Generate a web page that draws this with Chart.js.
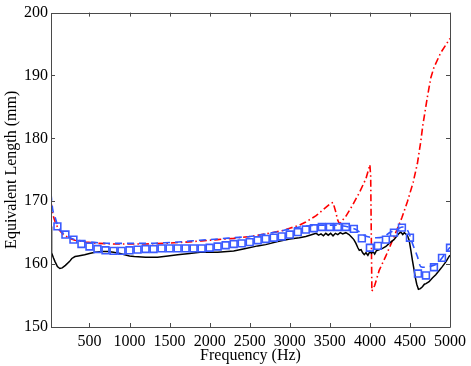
<!DOCTYPE html>
<html>
<head>
<meta charset="utf-8">
<script src="https://cdn.jsdelivr.net/npm/chart.js@4/dist/chart.umd.min.js"></script>
<style>
html,body{margin:0;padding:0;background:#fff;}
#wrap{width:471px;height:366px;position:relative;}
</style>
</head>
<body>
<div id="wrap"><canvas id="c" width="471" height="366"></canvas></div>
<script>
// ---- data ----
const xTickValues = [500, 1000, 1500, 2000, 2500, 3000, 3500, 4000, 4500, 5000];
const yTickValues = [150, 160, 170, 180, 190, 200];

const measuredFreq = [20, 24, 30, 50, 70, 100, 130, 160, 200, 250, 280, 320, 360, 440, 500, 570, 650, 730, 800, 880, 940, 1000, 1060, 1200, 1350, 1480, 1600, 1750, 1880, 2000, 2100, 2300, 2450, 2600, 2700, 2850, 3000, 3120, 3200, 3250, 3300, 3330, 3360, 3390, 3420, 3450, 3480, 3510, 3540, 3570, 3600, 3630, 3660, 3700, 3740, 3770, 3800, 3826, 3850, 3868, 3890, 3910, 3930, 3951, 3975, 4000, 4020, 4040, 4060, 4080, 4120, 4158, 4200, 4241, 4300, 4344, 4365, 4386, 4410, 4430, 4448, 4470, 4490, 4510, 4531, 4550, 4565, 4585, 4606, 4630, 4656, 4680, 4700, 4739, 4780, 4822, 4860, 4904, 4950, 4987, 5000];
const measuredLen = [166.0, 162.5, 161.8, 161.0, 160.4, 159.6, 159.3, 159.4, 159.8, 160.4, 160.9, 161.2, 161.3, 161.5, 161.7, 161.9, 162.0, 162.0, 161.9, 161.7, 161.5, 161.3, 161.2, 161.1, 161.1, 161.3, 161.5, 161.7, 161.9, 161.9, 161.9, 162.1, 162.5, 162.9, 163.1, 163.6, 164.0, 164.2, 164.4, 164.6, 164.8, 164.9, 164.6, 164.8, 164.5, 164.9, 164.6, 164.9, 164.5, 164.9, 164.7, 165.0, 164.8, 165.0, 164.7, 164.3, 163.9, 163.3, 162.6, 162.2, 162.3, 161.8, 161.5, 161.8, 161.4, 162.0, 161.7, 162.0, 161.6, 162.1, 162.3, 162.5, 162.8, 163.3, 163.9, 164.6, 164.9, 165.1, 164.7, 165.0, 164.8, 164.5, 163.8, 162.3, 160.6, 159.2, 158.0, 156.8, 156.0, 156.1, 156.4, 156.8, 156.9, 157.2, 157.8, 158.3, 158.9, 159.6, 160.4, 161.2, 161.4];

const modelFreq = [20, 40, 70, 111, 173, 250, 318, 450, 608, 800, 1000, 1200, 1438, 1700, 1877, 2100, 2300, 2500, 2700, 2900, 3121, 3250, 3370, 3500, 3650, 3785, 3840, 3889, 3940, 3992, 4080, 4158, 4261, 4350, 4407, 4469, 4500, 4531, 4593, 4635, 4700, 4739, 4842, 4925, 5000];
const modelLen = [171.2, 168.8, 167.5, 165.9, 164.9, 164.3, 163.9, 163.6, 163.4, 163.3, 163.3, 163.3, 163.4, 163.6, 163.8, 164.0, 164.2, 164.4, 164.8, 165.3, 165.9, 166.1, 166.2, 166.2, 166.1, 165.7, 165.4, 164.9, 164.5, 164.3, 164.2, 164.3, 165.1, 165.6, 165.9, 165.4, 164.5, 163.3, 161.2, 159.6, 159.5, 159.6, 160.1, 161.4, 162.7];

const simpleFreq = [20, 40, 70, 111, 173, 250, 318, 450, 608, 800, 1000, 1200, 1438, 1700, 1900, 2100, 2300, 2500, 2700, 2900, 3000, 3121, 3200, 3329, 3420, 3515, 3540, 3570, 3598, 3620, 3700, 3785, 3870, 3951, 4000, 4010, 4025, 4060, 4116, 4200, 4300, 4400, 4470, 4540, 4593, 4635, 4660, 4718, 4760, 4800, 4884, 4950, 5000];
const simpleLen = [169.9, 168.0, 166.8, 165.6, 164.7, 164.1, 163.8, 163.5, 163.3, 163.2, 163.2, 163.2, 163.3, 163.5, 163.7, 163.9, 164.1, 164.4, 164.8, 165.3, 165.7, 166.2, 166.7, 167.7, 168.7, 169.7, 169.8, 168.5, 167.0, 166.4, 167.6, 169.4, 171.4, 173.6, 175.8, 174.0, 155.7, 156.6, 159.0, 161.3, 164.3, 167.4, 170.0, 173.0, 176.0, 179.5, 182.0, 186.6, 189.6, 191.3, 193.6, 194.9, 195.9];

const squareFreq = [100, 200, 300, 400, 500, 600, 700, 800, 900, 1000, 1100, 1200, 1300, 1400, 1500, 1600, 1700, 1800, 1900, 2000, 2100, 2200, 2300, 2400, 2500, 2600, 2700, 2800, 2900, 3000, 3100, 3200, 3300, 3400, 3500, 3600, 3700, 3800, 3900, 4000, 4100, 4200, 4300, 4400, 4500, 4600, 4700, 4800, 4900, 5000];
const squareLen = [166.0, 164.7, 163.9, 163.2, 162.8, 162.4, 162.2, 162.1, 162.1, 162.2, 162.3, 162.4, 162.4, 162.5, 162.5, 162.5, 162.5, 162.5, 162.5, 162.6, 162.8, 163.0, 163.2, 163.3, 163.5, 163.8, 164.0, 164.2, 164.4, 164.7, 165.1, 165.5, 165.7, 165.9, 165.9, 165.9, 165.9, 165.6, 164.1, 162.6, 162.9, 163.9, 165.0, 165.8, 164.2, 158.5, 158.2, 159.5, 161.0, 162.6];

const pts = (xs, ys) => xs.map((x, i) => ({x: x, y: ys[i]}));

const FONT = "'Liberation Serif', 'Times New Roman', serif";

const boxTicks = {
  id: 'boxTicks',
  afterDraw(chart) {
    const {ctx, chartArea: a, scales: {x, y}} = chart;
    ctx.save();
    ctx.strokeStyle = '#4a4a4a';
    ctx.lineWidth = 1;
    ctx.beginPath();
    ctx.rect(Math.round(a.left) + 0.5, Math.round(a.top) + 0.5, Math.round(a.right - a.left), Math.round(a.bottom - a.top));
    ctx.stroke();
    const tl = 4;
    ctx.beginPath();
    xTickValues.forEach(v => {
      const px = Math.round(x.getPixelForValue(v)) + 0.5;
      ctx.moveTo(px, a.bottom); ctx.lineTo(px, a.bottom - tl);
      ctx.moveTo(px, a.top); ctx.lineTo(px, a.top + tl);
    });
    yTickValues.forEach(v => {
      const py = Math.round(y.getPixelForValue(v)) + 0.5;
      ctx.moveTo(a.left, py); ctx.lineTo(a.left + tl, py);
      ctx.moveTo(a.right, py); ctx.lineTo(a.right - tl, py);
    });
    ctx.stroke();
    ctx.restore();
  }
};

new Chart(document.getElementById('c'), {
  type: 'line',
  data: {
    datasets: [
      {
        data: pts(squareFreq, squareLen),
        showLine: false,
        pointStyle: 'rect',
        pointRadius: 4.8,
        pointBorderWidth: 1.6,
        pointBorderColor: '#3b5bff',
        pointBackgroundColor: 'rgba(0,0,0,0)',
        borderColor: '#3b5bff'
      },
      {
        data: pts(measuredFreq, measuredLen),
        borderColor: '#000000',
        borderWidth: 1.5,
        pointRadius: 0,
        tension: 0
      },
      {
        data: pts(modelFreq, modelLen),
        borderColor: '#2f55ff',
        borderWidth: 1.6,
        borderDash: [7, 5],
        pointRadius: 0,
        cubicInterpolationMode: 'monotone'
      },
      {
        data: pts(simpleFreq, simpleLen),
        borderColor: '#ff0000',
        borderWidth: 1.6,
        borderDash: [7, 3, 1.5, 3],
        pointRadius: 0,
        tension: 0
      }
    ]
  },
  options: {
    responsive: false,
    animation: false,
    layout: {padding: {top: 12, right: 20, left: 0, bottom: 0}},
    plugins: {legend: {display: false}, tooltip: {enabled: false}},
    scales: {
      x: {
        type: 'linear',
        min: 20,
        max: 5000,
        afterBuildTicks: s => { s.ticks = xTickValues.map(v => ({value: v})); },
        afterFit: s => { s.height = 39; },
        grid: {display: false, drawTicks: false},
        border: {display: false},
        ticks: {color: '#000', font: {family: FONT, size: 16}, padding: 5, maxRotation: 0, autoSkip: false, callback: v => String(v)},
        title: {display: true, text: 'Frequency (Hz)', color: '#000', font: {family: FONT, size: 16}, padding: {top: 0, bottom: 1}}
      },
      y: {
        min: 150,
        max: 200,
        afterBuildTicks: s => { s.ticks = yTickValues.map(v => ({value: v})); },
        afterFit: s => { s.width = 51; },
        grid: {display: false, drawTicks: false},
        border: {display: false},
        ticks: {color: '#000', font: {family: FONT, size: 16}, padding: 3, callback: v => String(v)},
        title: {display: true, text: 'Equivalent Length (mm)', color: '#000', font: {family: FONT, size: 16}, padding: {top: 2, bottom: 0}}
      }
    }
  },
  plugins: [boxTicks]
});
</script>
</body>
</html>
